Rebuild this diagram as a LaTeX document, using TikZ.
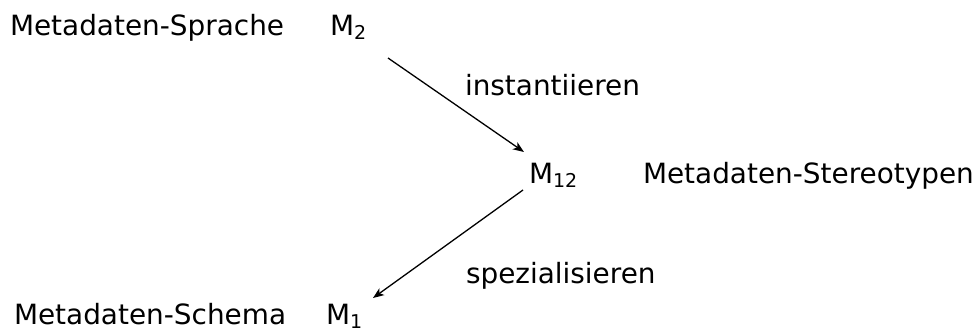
\documentclass[tikz,border=0pt]{standalone}
\usepackage{fontspec}
\setmainfont{DejaVu Sans}
\usetikzlibrary{arrows.meta}
\newcommand{\subsc}[1]{\raisebox{-4pt}{\fontsize{19}{19}\selectfont #1}}
\tikzset{
  lbl/.style={anchor=base west, inner sep=0pt, outer sep=0pt, font=\fontsize{27.9}{33}\selectfont},
  arr/.style={line width=1.3pt, -{Stealth[length=11pt,width=8.5pt,inset=3pt]}}
}
\begin{document}
\begin{tikzpicture}[x=1pt,y=1pt]
\useasboundingbox (0,0) rectangle (975,330);
\node[lbl] (lang) at (10,294) {Metadaten-Sprache};
\node[lbl] (M2) at (330,294) {M\subsc{2}};
\node[lbl] (inst) at (465,234) {instantiieren};
\node[lbl] (M12) at (529,147) {M\subsc{12}};
\node[lbl] (stereo) at (643,147) {Metadaten-Stereotypen};
\node[lbl] (spez) at (466,47) {spezialisieren};
\node[lbl] (schema) at (14,6) {Metadaten-Schema};
\node[lbl] (M1) at (326,6) {M\subsc{1}};
\draw[arr] ([shift={(58,-22)}]M2.base west) -- ([shift={(-5,31)}]M12.base west);
\draw[arr] ([shift={(-6,-7)}]M12.base west) -- ([shift={(47,26)}]M1.base west);
\end{tikzpicture}
\end{document}
